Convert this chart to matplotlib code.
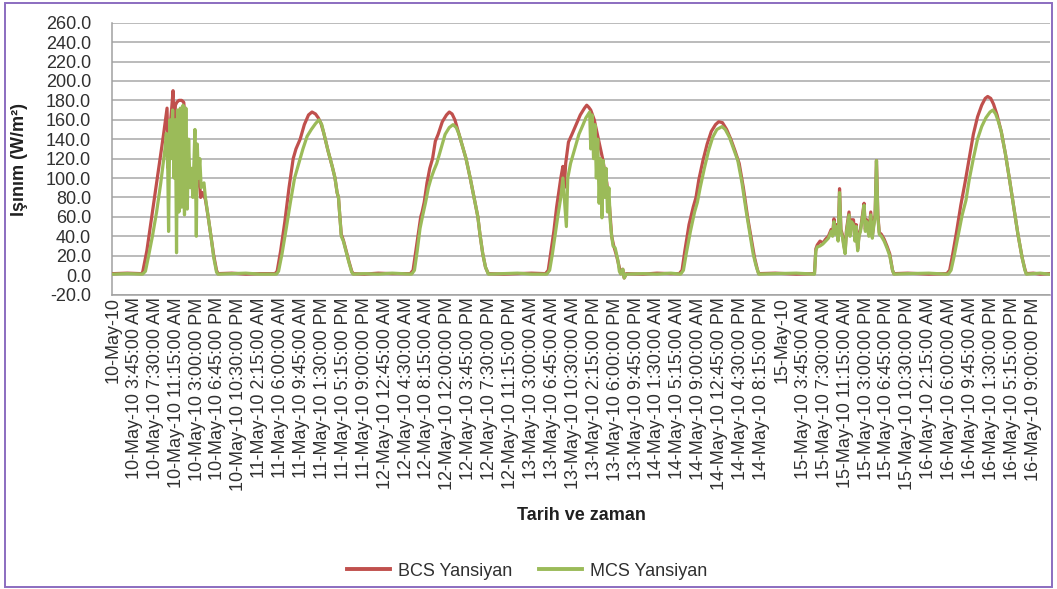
import matplotlib
matplotlib.use("Agg")
import matplotlib.pyplot as plt
from matplotlib.patches import Rectangle
from matplotlib.lines import Line2D

plt.rcParams['font.family'] = ['Liberation Sans', 'DejaVu Sans']
plt.rcParams['axes.unicode_minus'] = False

# ---- data (x = 15-minute step index from 10-May-10 00:00) ----
bcs_t = [0, 10, 20, 21, 24, 28, 32, 36, 38.5, 39.3, 40.5, 42, 42.8, 43.6, 44.5, 45.5, 47, 49, 50.5, 51.5,
         53, 55, 57, 59, 61, 62.6, 64, 66, 68, 70, 72, 74, 75, 85, 95, 105,
         116, 117.5, 120, 123, 126, 129, 131, 134, 137, 140, 142.5, 145, 147, 149, 151, 154, 157, 159,
         160.5, 161.5, 162.5, 163.5, 165, 167, 169, 171, 172, 180, 190, 200,
         213, 215, 217, 219, 220.5, 221.5, 223, 225, 227, 229, 231, 233, 236, 239, 241, 243, 245, 247,
         250, 253, 256, 259, 261.5, 263, 265, 267, 269, 280, 290, 300,
         310, 312, 314, 316, 318, 320, 321, 322.5, 323.5, 324.5, 326.5, 329, 332, 335, 338, 339.6, 341,
         342.5, 345, 348, 351, 354, 356, 357.5, 359, 361, 363, 364, 365.5, 366.5, 368, 380, 390, 400,
         406, 408, 410, 413, 416, 418, 420, 423, 426, 429, 432, 434.3, 437, 440, 443, 446, 449, 452,
         455, 458, 460, 462, 463, 475, 490, 502,
         503, 504, 505, 507, 509, 511, 513, 515, 516, 517, 518, 519, 520, 521, 522, 523, 524, 525, 526,
         527.8, 528.5, 529.5, 531, 532, 533, 534, 535, 536, 537, 538.6, 539.5, 540.5, 542, 543.4, 544.5,
         545.5, 546.5, 547.5, 548.5, 549.5, 551, 553, 555, 557, 559, 560, 570, 585, 597,
         598, 600, 602, 605, 608, 611, 614, 617, 620, 623, 625.5, 627.3, 629.5, 631.5, 634, 637, 640,
         643, 646, 649, 652, 654, 655, 660, 665, 671]
bcs_v = [1.5, 2.0, 1.5, 3, 25, 65, 105, 145, 172, 110, 150, 175, 190, 150, 175, 178, 180, 180, 178, 160,
         100, 95, 110, 80, 110, 80, 85, 78, 60, 40, 20, 5, 1.5, 2.0, 1.0, 1.5,
         1.5, 4, 25, 55, 90, 120, 130, 140, 155, 165, 168, 166, 162, 156, 146, 128, 112, 100,
         85, 80, 60, 42, 36, 25, 14, 4, 1.5, 1.0, 2.0, 1.5,
         1.5, 5, 25, 45, 60, 65, 75, 95, 110, 120, 138, 145, 158, 165, 168, 166, 160, 150,
         135, 120, 100, 78, 60, 42, 22, 8, 1.5, 1.0, 1.5, 2.0,
         1.5, 5, 25, 45, 70, 90, 100, 112, 90, 115, 137, 145, 155, 165, 172, 175, 173,
         170, 160, 140, 120, 95, 70, 40, 30, 20, 8, 1.5, 6, -3, 1.5, 1.0, 2.0, 1.5,
         1.5, 5, 25, 52, 70, 80, 98, 118, 135, 148, 155, 158, 157, 150, 140, 128, 115, 90,
         60, 35, 18, 6, 1.5, 2.0, 1.0, 1.5,
         1.5, 27, 31, 35, 33, 37, 40, 47, 42, 58, 44, 52, 37, 89, 47, 42, 32, 24, 47,
         65, 42, 57, 57, 37, 52, 27, 42, 47, 57, 74, 47, 57, 42, 65, 40,
         52, 62, 118, 62, 44, 42, 37, 30, 22, 5, 1.5, 2.0, 1.0, 1.5,
         1.5, 5, 20, 45, 72, 95, 120, 145, 163, 175, 182, 184, 182, 176, 165, 148, 125,
         98, 70, 42, 18, 6, 1.5, 2.0, 1.0, 1.5]

mcs_t = [0, 10, 21, 23, 25, 28, 31, 34, 37, 38, 39, 39.6, 40.5, 41.5, 42.5, 43.5, 44.5, 45.3, 46, 47,
         48, 49, 50, 51, 52, 53, 54, 55, 56, 57, 58.5, 59.5, 60.2, 61, 62, 63, 65, 66, 68, 70, 72, 74,
         75, 85, 95, 105,
         117, 118.5, 121, 124, 127, 130, 133, 136, 139, 142, 145, 147.5, 149.5, 151, 154, 157, 159,
         160.5, 161.5, 162.5, 163.5, 165, 167, 169, 171, 172, 180, 190, 200,
         214, 216, 218, 220, 222, 224, 226, 228, 230, 232, 235, 238, 241, 243.7, 246, 248, 250, 253,
         256, 259, 261.5, 263, 265, 267, 269, 280, 290, 300,
         311, 313, 315, 317, 319, 321, 322.5, 324, 325, 326, 328, 331, 334, 337, 339, 341.7, 342.5,
         343.5, 344.5, 345.5, 346.5, 347.5, 348.5, 349.5, 350.5, 351.5, 352.5, 353.5, 354.5, 355.5,
         356.5, 357.5, 358.5, 360, 362, 363, 364, 365.5, 366.5, 368, 380, 390, 400,
         407, 409, 411, 414, 417, 419, 421, 424, 427, 430, 433, 436.7, 439, 442, 445, 448, 451, 454,
         457, 459, 461, 463, 475, 490, 502,
         503, 504, 505, 507, 509, 511, 513, 515, 516, 517, 518, 519, 520, 521, 522, 523, 524, 525, 526,
         527.8, 528.5, 529.5, 531, 532, 533, 534, 535, 536, 537, 538.6, 539.5, 540.5, 542, 543.4, 544.5,
         545.5, 546.5, 547.5, 548.5, 549.5, 551, 553, 555, 557, 559, 560, 570, 585, 597,
         599, 601, 603, 606, 609, 611.7, 614, 617, 620, 623, 626, 629, 631, 633, 635, 637, 640,
         643, 646, 649, 652, 654, 655, 660, 665, 671]
mcs_v = [1.0, 1.5, 1.0, 4, 18, 40, 65, 95, 130, 146, 110, 45, 160, 120, 170, 100, 160, 23, 170, 65,
         172, 70, 175, 62, 172, 68, 140, 90, 110, 80, 150, 40, 135, 100, 120, 90, 95, 80, 60, 40, 18, 3,
         1.0, 1.5, 2.0, 1.0,
         1.0, 4, 22, 48, 75, 100, 115, 130, 143, 150, 156, 160, 155, 146, 128, 112, 100,
         85, 80, 60, 40, 35, 24, 13, 3, 1.0, 1.5, 1.0, 2.0,
         1.0, 5, 25, 48, 62, 75, 90, 100, 108, 115, 130, 145, 152, 155, 152, 145, 135, 120,
         100, 78, 60, 42, 22, 8, 1.0, 1.5, 2.0, 1.0,
         1.0, 5, 22, 42, 62, 80, 100, 70, 50, 100, 115, 130, 145, 155, 162, 168, 130,
         165, 120, 155, 100, 140, 74, 120, 59, 118, 80, 110, 65, 90,
         55, 40, 30, 28, 15, 4, 1.0, 6, -3, 1.0, 1.5, 1.0, 2.0,
         1.0, 5, 22, 45, 65, 75, 90, 110, 128, 142, 150, 153, 150, 142, 130, 118, 95, 66,
         40, 22, 10, 1.0, 1.5, 2.0, 1.0,
         1.0, 25, 29, 30, 32, 35, 38, 45, 40, 55, 42, 50, 35, 85, 45, 40, 30, 22, 45,
         62, 40, 55, 52, 35, 50, 25, 40, 45, 55, 72, 45, 55, 40, 62, 38,
         50, 60, 118, 60, 42, 40, 35, 28, 20, 5, 1.0, 1.5, 2.0, 1.0,
         1.0, 5, 18, 40, 62, 77, 98, 120, 140, 153, 162, 168, 170, 166, 158, 148, 125,
         98, 70, 42, 18, 5, 1.0, 1.5, 2.0, 1.0]

tick_labels = [
    "10-May-10", "10-May-10 3:45:00 AM", "10-May-10 7:30:00 AM", "10-May-10 11:15:00 AM",
    "10-May-10 3:00:00 PM", "10-May-10 6:45:00 PM", "10-May-10 10:30:00 PM",
    "11-May-10 2:15:00 AM", "11-May-10 6:00:00 AM", "11-May-10 9:45:00 AM", "11-May-10 1:30:00 PM",
    "11-May-10 5:15:00 PM", "11-May-10 9:00:00 PM",
    "12-May-10 12:45:00 AM", "12-May-10 4:30:00 AM", "12-May-10 8:15:00 AM", "12-May-10 12:00:00 PM",
    "12-May-10 3:45:00 PM", "12-May-10 7:30:00 PM", "12-May-10 11:15:00 PM",
    "13-May-10 3:00:00 AM", "13-May-10 6:45:00 AM", "13-May-10 10:30:00 AM", "13-May-10 2:15:00 PM",
    "13-May-10 6:00:00 PM", "13-May-10 9:45:00 PM",
    "14-May-10 1:30:00 AM", "14-May-10 5:15:00 AM", "14-May-10 9:00:00 AM", "14-May-10 12:45:00 PM",
    "14-May-10 4:30:00 PM", "14-May-10 8:15:00 PM",
    "15-May-10", "15-May-10 3:45:00 AM", "15-May-10 7:30:00 AM", "15-May-10 11:15:00 AM",
    "15-May-10 3:00:00 PM", "15-May-10 6:45:00 PM", "15-May-10 10:30:00 PM",
    "16-May-10 2:15:00 AM", "16-May-10 6:00:00 AM", "16-May-10 9:45:00 AM", "16-May-10 1:30:00 PM",
    "16-May-10 5:15:00 PM", "16-May-10 9:00:00 PM",
]
tick_step = 15
y_ticks = list(range(-20, 261, 20))

series_names = ["BCS Yansiyan", "MCS Yansiyan"]
colors = ["#C0504D", "#9BBB59"]

# ---- figure ----
W, H = 1057, 589
fig = plt.figure(figsize=(W / 100, H / 100), dpi=100)
fig.patches.append(Rectangle((5 / W, 1 - 587 / H), 1047 / W, 584 / H, transform=fig.transFigure,
                             fill=False, edgecolor="#8B6CC0", linewidth=1.4, zorder=0))

ax = fig.add_axes([112 / W, 1 - 294.5 / H, (1050 - 112) / W, (294.5 - 22.7) / H])
ax.plot(bcs_t, bcs_v, color=colors[0], lw=2.3, solid_joinstyle="round", zorder=3)
ax.plot(mcs_t, mcs_v, color=colors[1], lw=2.3, solid_joinstyle="round", zorder=4)

ax.set_xlim(-1, 672)
ax.set_ylim(-20, 260)
ax.set_yticks(y_ticks)
ax.set_yticklabels([f"{v:.1f}" for v in y_ticks], fontsize=13, color="#303030")
ax.set_xticks([k * tick_step for k in range(len(tick_labels))])
ax.set_xticklabels(tick_labels, rotation=90, fontsize=13, color="#303030", ha="center", va="top")
ax.tick_params(axis="y", length=0, pad=15)
ax.tick_params(axis="x", length=0, pad=2)
ax.grid(axis="y", color="#A8A8A8", lw=1.1, zorder=1)
ax.set_axisbelow(True)
for s in ["top", "right"]:
    ax.spines[s].set_visible(False)
for s in ["left", "bottom"]:
    ax.spines[s].set_color("#A0A0A0")
    ax.spines[s].set_linewidth(1.1)

fig.text(20 / W, 1 - 160 / H, "Işınım (W/m²)", fontsize=13, fontweight="bold", rotation=90,
         ha="center", va="center", color="#202020")
fig.text(581 / W, 1 - 515 / H, "Tarih ve zaman", fontsize=13, fontweight="bold",
         ha="center", va="center", color="#202020")

handles = [Line2D([], [], color=c, lw=2.8) for c in colors]
fig.legend(handles, series_names, loc="center", bbox_to_anchor=(527 / W, 1 - 571 / H),
           ncol=2, frameon=False, fontsize=13, handlelength=2.4, columnspacing=1.5,
           handletextpad=0.4, labelcolor="#303030")

fig.savefig("out.png", dpi=100)
